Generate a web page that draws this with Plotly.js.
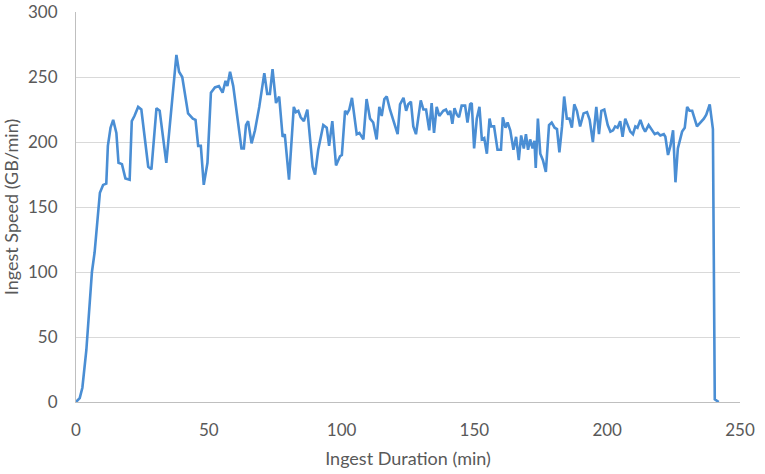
<!DOCTYPE html>
<html>
<head>
<meta charset="utf-8">
<script src="https://cdn.plot.ly/plotly-3.0.1.min.js"></script>
<style>
  html, body { margin: 0; padding: 0; background: #fff; }
  #chart { width: 765px; height: 474px; }
</style>
</head>
<body>
<div id="chart"></div>
<script>
// minutes into the ingest
const minutes = [
  0, 1.4, 2.4, 3.9, 6, 7, 9, 10.2, 11.4, 12, 13, 14, 15.2, 16, 17.3, 18.6, 20.2, 21, 22, 23.4,
  24.6, 25.9, 27.2, 28.4, 30.3, 31.5, 32.8, 34, 36.2, 37.8, 38.8, 40, 42.2, 44, 45, 46, 47, 48.1, 49.5, 50.8,
  52.3, 53.8, 55.2, 56.3, 57, 58, 59.2, 60.4, 62.3, 63.2, 64, 64.8, 66.1, 67.4, 69, 70.9, 72, 73, 74, 75.3,
  76.5, 77.8, 78.6, 80.2, 82, 82.8, 83.7, 84.6, 85.8, 87.1, 88.1, 89.1, 90, 91.2, 93.1, 94.4, 95.3, 96.5, 97.9, 99.4,
  100.1, 101.3, 102.1, 102.9, 103.9, 105.7, 106.7, 108.2, 109.4, 110.7, 111.9, 113.2, 114.2, 115.1, 116.1, 117, 118.2, 119.9, 121.1, 122,
  123.3, 124.3, 125.1, 126.1, 127, 128, 129.8, 130.8, 131.8, 133, 133.9, 134.8, 135.8, 136.8, 138.3, 139.3, 140.2, 140.9, 141.7, 142.5,
  143.4, 144.2, 145.2, 146.5, 147.4, 148.4, 149, 149.9, 150.9, 151.9, 152.8, 153.7, 154.7, 155.7, 156.3, 157.4, 158.7, 160, 160.7, 161.7,
  162.5, 163.5, 164.7, 165.7, 166.7, 167.6, 168.6, 169.4, 170.2, 171, 171.9, 172.6, 173.1, 173.9, 174.8, 175.8, 176.9, 178.1, 179.1, 180.2,
  181.1, 182, 183, 183.8, 184.8, 185.8, 186.7, 187.6, 188.6, 189.8, 191.1, 192.4, 193.4, 194.6, 195.9, 196.9, 197.8, 198.9, 200.2, 201.2,
  202.2, 203, 203.9, 204.9, 205.8, 206.8, 207.7, 208.7, 209.7, 210.6, 211.4, 212.5, 213.5, 214.3, 215.6, 216.9, 217.9, 219, 220, 221.3,
  221.9, 222.9, 223.8, 224.8, 225.7, 226.6, 228.2, 229.2, 230.1, 231, 232, 233.8, 235.1, 236.4, 237.3, 238.6, 239.8, 240.5, 242
];

// ingest speed in GB/min at those minutes
const speed = [
  0, 3, 11, 40, 100, 115, 161, 167, 168, 197, 211, 217, 207, 184, 183, 172, 171, 216, 220, 227,
  225, 202, 181, 179, 226, 224, 204, 184, 232, 267, 254, 250, 222, 218, 217, 197, 197, 167, 184, 238,
  242, 243, 238, 247, 243, 254, 243, 225, 195, 195, 213, 216, 199, 209, 227, 253, 237, 237, 256, 230,
  235, 204, 206, 171, 227, 223, 224, 219, 216, 225, 202, 181, 175, 194, 213, 211, 197, 216, 182, 189,
  190, 224, 222, 225, 234, 206, 207, 202, 233, 218, 215, 202, 227, 220, 233, 235, 225, 213, 206, 229,
  234, 224, 229, 231, 212, 206, 232, 225, 225, 209, 230, 207, 227, 220, 224, 225, 221, 224, 214, 226,
  221, 219, 228, 228, 215, 229, 230, 195, 218, 227, 202, 203, 191, 218, 212, 212, 194, 194, 219, 211,
  215, 209, 194, 204, 186, 205, 195, 206, 194, 202, 195, 201, 180, 218, 191, 186, 177, 213, 215, 211,
  210, 192, 212, 235, 218, 218, 211, 229, 224, 212, 222, 223, 217, 200, 227, 206, 224, 225, 213, 208,
  209, 212, 211, 216, 204, 218, 213, 208, 206, 212, 211, 217, 211, 208, 213, 209, 206, 207, 205, 206,
  204, 190, 197, 209, 169, 195, 208, 211, 227, 224, 224, 212, 215, 218, 221, 229, 210, 2, 0
];

const xTicks = [0, 50, 100, 150, 200, 250];
const yTicks = [0, 50, 100, 150, 200, 250, 300];

const textColor = "#595959";
const gridColor = "#d9d9d9";

const data = [{
  x: minutes,
  y: speed,
  type: "scatter",
  mode: "lines",
  line: { color: "#4a8ed4", width: 2.6 },
  hoverinfo: "x+y"
}];

const layout = {
  width: 765,
  height: 474,
  margin: { l: 76, r: 25, t: 12, b: 72 },
  paper_bgcolor: "#ffffff",
  plot_bgcolor: "#ffffff",
  showlegend: false,
  font: { family: "Lato, 'Open Sans', sans-serif", size: 17, color: textColor },
  xaxis: {
    range: [0, 250],
    tickvals: xTicks,
    ticktext: xTicks.map(String),
    showgrid: false,
    zeroline: false,
    showline: true,
    linecolor: "#bfbfbf",
    linewidth: 1,
    ticks: "",
    ticklabelstandoff: 13,
    title: { text: "Ingest Duration (min)", font: { size: 18, color: textColor }, standoff: 12 }
  },
  yaxis: {
    range: [0, 300],
    tickvals: yTicks,
    ticktext: yTicks.map(String),
    showgrid: true,
    gridcolor: gridColor,
    gridwidth: 1,
    zeroline: false,
    showline: true,
    linecolor: "#bfbfbf",
    linewidth: 1,
    ticks: "",
    ticklabelstandoff: 14,
    title: { text: "Ingest Speed (GB/min)", font: { size: 18, color: textColor }, standoff: 6 }
  }
};

Plotly.newPlot("chart", data, layout, { displayModeBar: false, staticPlot: true });
</script>
</body>
</html>
